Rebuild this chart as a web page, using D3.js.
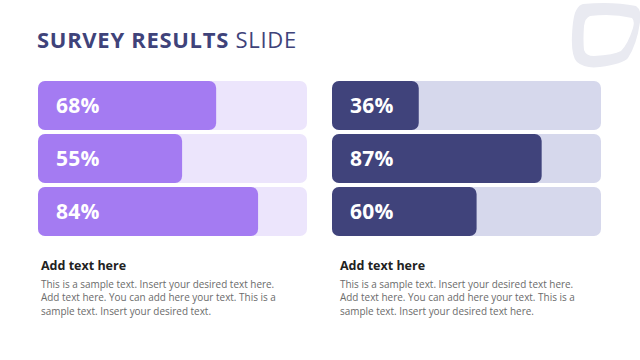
<!DOCTYPE html>
<html>
<head>
<meta charset="utf-8">
<script src="https://cdn.jsdelivr.net/npm/d3@7"></script>
<style>
  body { margin: 0; background: #fff; }
  svg text { font-family: "Open Sans", "Noto Sans", sans-serif; }
</style>
</head>
<body>
<div id="chart"></div>
<script>
// data
const leftValues = [68, 55, 84];
const rightValues = [36, 87, 60];
const headings = ["Add text here", "Add text here"];
const leftBody = [
    "This is a sample text. Insert your desired text here.",
    "Add text here. You can add here your text. This is a",
    "sample text. Insert your desired text."
];
const rightBody = [
    "This is a sample text. Insert your desired text here.",
    "Add text here. You can add here your text. This is a",
    "sample text. Insert your desired text here."
];

const width = 640, height = 360;

const svg = d3.select("#chart")
    .append("svg")
    .attr("width", width)
    .attr("height", height);

// title
const title = svg.append("text")
    .attr("x", 37)
    .attr("y", 48)
    .attr("font-size", 22)
    .attr("letter-spacing", 0.7)
    .attr("fill", "#3f437a");
title.append("tspan").attr("font-weight", 700).text("SURVEY RESULTS ");
title.append("tspan").attr("font-weight", 400).text("SLIDE");

// logo shape in the corner
svg.append("path")
    .attr("fill", "#e9eaf1")
    .attr("fill-rule", "evenodd")
    .attr("d",
        "M583,4 Q612,1 636,6 Q642,10 640,22 Q637,44 628,58 Q623,64 600,67 Q585,69 577,62 Q571,56 572,35 Q573,14 577,9 Q579,5 583,4 Z " +
        "M590,16 Q612,13 632,18 Q635,21 633,28 Q628,44 621,51 Q614,55 594,56 Q586,56 584,50 Q583,40 584,26 Q585,18 590,16 Z");

// one panel of bars
function drawPanel(values, opts) {
    const g = svg.append("g").attr("transform", `translate(${opts.x},${opts.y})`);

    const x = d3.scaleLinear().domain([0, 100]).range([0, opts.fillMax]);
    const y = d3.scaleBand()
        .domain(d3.range(values.length))
        .range([0, opts.h])
        .paddingInner(0.075);

    g.selectAll("rect.track")
        .data(values)
        .enter()
        .append("rect")
        .attr("class", "track")
        .attr("x", 0)
        .attr("y", (d, i) => y(i))
        .attr("width", opts.w)
        .attr("height", y.bandwidth())
        .attr("rx", 7)
        .attr("fill", opts.track);

    g.selectAll("rect.fill")
        .data(values)
        .enter()
        .append("rect")
        .attr("class", "fill")
        .attr("x", 0)
        .attr("y", (d, i) => y(i))
        .attr("width", d => x(d))
        .attr("height", y.bandwidth())
        .attr("rx", 7)
        .attr("fill", opts.fill);

    g.selectAll("text.val")
        .data(values)
        .enter()
        .append("text")
        .attr("class", "val")
        .attr("x", 18)
        .attr("y", (d, i) => y(i) + y.bandwidth() / 2)
        .attr("dy", "0.36em")
        .attr("font-size", 21)
        .attr("font-weight", 700)
        .attr("letter-spacing", 0.3)
        .attr("fill", "#fff")
        .text(d => d + "%");
}

drawPanel(leftValues, { x: 38, y: 81, w: 269, h: 155, fillMax: 262, track: "#ece5fc", fill: "#a47bf2" });
drawPanel(rightValues, { x: 332, y: 81, w: 269, h: 155, fillMax: 241, track: "#d6d8ec", fill: "#40437b" });

// text blocks
function drawText(x, heading, lines) {
    svg.append("text")
        .attr("x", x)
        .attr("y", 270)
        .attr("font-size", 12.5)
        .attr("font-weight", 700)
        .attr("fill", "#222")
        .text(heading);

    svg.selectAll(null)
        .data(lines)
        .enter()
        .append("text")
        .attr("x", x)
        .attr("y", (d, i) => 288 + i * 13.3)
        .attr("font-size", 9.95)
        .attr("fill", "#6b6b6b")
        .text(d => d);
}

drawText(41, headings[0], leftBody);
drawText(340, headings[1], rightBody);
</script>
</body>
</html>
